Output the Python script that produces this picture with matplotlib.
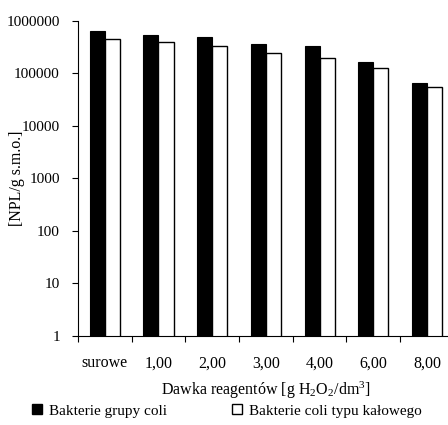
#!/usr/bin/env python3
"""Coliform counts vs H2O2 dose, log-scale grouped bars."""
import numpy as np
import matplotlib
matplotlib.use('Agg')
import matplotlib.pyplot as plt
from matplotlib.lines import Line2D

categories = ['surowe', '1,00', '2,00', '3,00', '4,00', '6,00', '8,00']
coli_total = [653000, 533000, 489000, 369000, 338000, 167000, 64600]
coli_fecal = [446000, 392000, 338000, 248000, 200000, 128000, 54300]
series_names = ['Bakterie grupy coli', 'Bakterie coli typu kałowego']
y_ticks = [1, 10, 100, 1000, 10000, 100000, 1000000]

plt.rcParams['font.family'] = ['Liberation Serif', 'DejaVu Serif']
plt.rcParams['font.size'] = 11.5
plt.rcParams['mathtext.fontset'] = 'custom'
plt.rcParams['mathtext.rm'] = 'Liberation Serif'
plt.rcParams['mathtext.it'] = 'Liberation Serif:italic'

fig = plt.figure(figsize=(4.48, 4.25), dpi=100)
ax = fig.add_axes([0.174, 0.210, 1.013 - 0.174, 0.9506 - 0.210])

x = np.arange(len(categories))
w = 0.28
ax.bar(x - w / 2, coli_total, width=w, color='black', edgecolor='black', linewidth=0.8)
ax.bar(x + w / 2, coli_fecal, width=w, color='white', edgecolor='black', linewidth=1.0)

ax.set_yscale('log')
ax.set_ylim(1, 1000000)
ax.set_yticks(y_ticks)
ax.set_yticklabels([str(v) for v in y_ticks])
ax.yaxis.set_minor_locator(matplotlib.ticker.NullLocator())
ax.set_xlim(-0.5, len(categories) - 0.5)

# ticks at category boundaries, labels at centres
ax.set_xticks(np.arange(len(categories) + 1) - 0.5)
ax.set_xticklabels([])
ax.set_xticks(x, minor=True)
ax.set_xticklabels(categories, minor=True)
ax.tick_params(axis='x', which='major', direction='out', length=4, width=0.8)
ax.tick_params(axis='x', which='minor', length=0, pad=14)
ax.tick_params(axis='y', direction='out', length=4, width=0.8, pad=9, labelsize=11)

for s in ('top', 'right'):
    ax.spines[s].set_visible(False)
ax.spines['left'].set_linewidth(0.8)
ax.spines['bottom'].set_linewidth(0.8)

ax.set_ylabel('[NPL/g s.m.o.]')
ax.yaxis.set_label_coords(-0.140, 0.5)
ax.set_xlabel('Dawka reagentów [g H$_2$O$_2$/dm$^3$]')
ax.xaxis.set_label_coords(0.5, -0.174)
ax.xaxis.label.set_va('center')

handles = [
    Line2D([], [], marker='s', linestyle='none', markersize=7,
           markerfacecolor='black', markeredgecolor='black'),
    Line2D([], [], marker='s', linestyle='none', markersize=7,
           markerfacecolor='white', markeredgecolor='black', markeredgewidth=1.0),
]
fig.legend(handles, series_names, loc='center', bbox_to_anchor=(0.505, 0.033),
           ncol=2, frameon=False, handlelength=0.8, handletextpad=0.4,
           columnspacing=4.2, fontsize=11)

fig.savefig('out.png', dpi=100)
